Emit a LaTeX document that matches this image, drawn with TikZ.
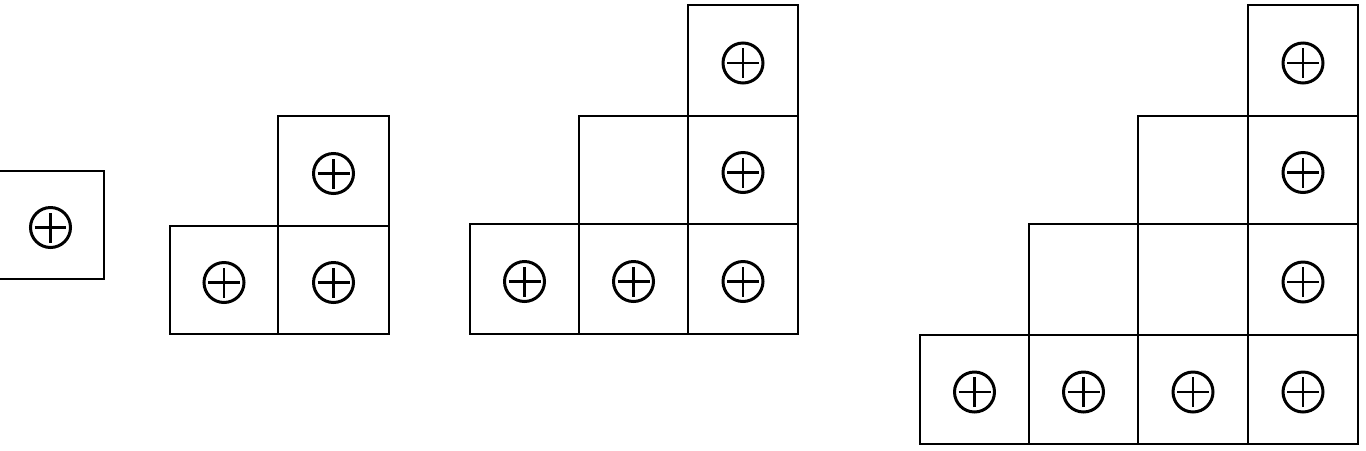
\documentclass[tikz,border=0pt]{standalone}
\begin{document}
\begin{tikzpicture}[x=0.02cm,y=-0.02cm,
  cellbox/.style={draw=black,line width=0.03cm,inner sep=0pt,outer sep=0pt,rectangle},
  plusmark/.style={draw=black,line width=0.06cm,circle,inner sep=0pt,minimum size=0.8cm,
    path picture={\draw[line width=0.055cm] ([xshift=-0.32cm]path picture bounding box.center) -- ([xshift=0.32cm]path picture bounding box.center);
                  \draw[line width=0.055cm] ([yshift=-0.3cm]path picture bounding box.center) -- ([yshift=0.3cm]path picture bounding box.center);}}]
\useasboundingbox (0,0) rectangle (1366,450);
\newcommand\cellat[5]{%
  \node[cellbox,minimum width={(#4-#2)*0.02cm},minimum height={(#5-#3)*0.02cm}] (#1) at ({(#2+#4)/2},{(#3+#5)/2}) {};}
\newcommand\plusin[1]{\node[plusmark] (#1p) at ([yshift=-0.05cm]#1.center) {};}
% group 1
\cellat{a}{-3}{171}{104}{279}\plusin{a}
% group 2
\cellat{ba}{170}{226}{278}{334}\plusin{ba}
\cellat{bb}{278}{226}{389}{334}\plusin{bb}
\cellat{bc}{278}{116}{389}{226}\plusin{bc}
% group 3
\cellat{ca}{470}{224}{579}{334}\plusin{ca}
\cellat{cb}{579}{224}{688}{334}\plusin{cb}
\cellat{cc}{688}{224}{798}{334}\plusin{cc}
\cellat{cd}{579}{116}{688}{224}
\cellat{ce}{688}{116}{798}{224}\plusin{ce}
\cellat{cf}{688}{5}{798}{116}\plusin{cf}
% group 4
\cellat{da}{920}{335}{1029}{444}\plusin{da}
\cellat{db}{1029}{335}{1138}{444}\plusin{db}
\cellat{dc}{1138}{335}{1248}{444}\plusin{dc}
\cellat{dd}{1248}{335}{1358}{444}\plusin{dd}
\cellat{de}{1029}{224}{1138}{335}
\cellat{df}{1138}{224}{1248}{335}
\cellat{dg}{1248}{224}{1358}{335}\plusin{dg}
\cellat{dh}{1138}{116}{1248}{224}
\cellat{di}{1248}{116}{1358}{224}\plusin{di}
\cellat{dj}{1248}{5}{1358}{116}\plusin{dj}
\end{tikzpicture}
\end{document}
